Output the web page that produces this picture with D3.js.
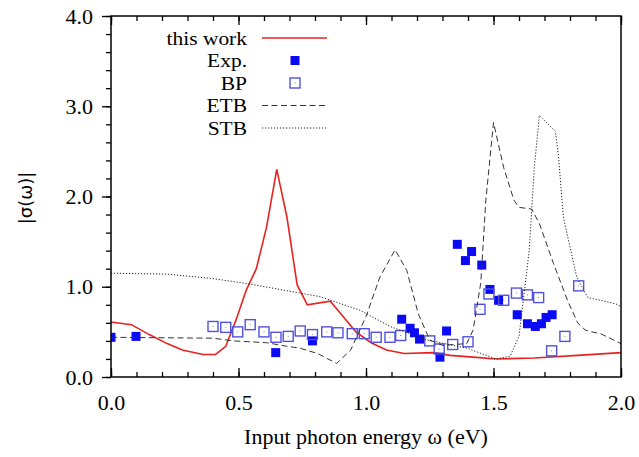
<!DOCTYPE html>
<html>
<head>
<meta charset="utf-8">
<script src="https://cdn.jsdelivr.net/npm/d3@7"></script>
<style>
  body { margin: 0; background: #fff; }
  text { font-family: "Liberation Serif", "Times New Roman", serif; }
</style>
</head>
<body>
<div id="fig"></div>
<script>
// this work (red solid)
var workX = [0, 0.08, 0.15, 0.22, 0.28, 0.36, 0.41, 0.45, 0.49, 0.53, 0.57, 0.61, 0.65, 0.69, 0.73, 0.77, 0.86, 0.91, 0.96, 1.02, 1.08, 1.15, 1.26, 1.33, 1.42, 1.51, 1.66, 1.83, 2.0];
var workY = [0.61, 0.58, 0.47, 0.37, 0.30, 0.25, 0.25, 0.34, 0.63, 0.96, 1.20, 1.66, 2.30, 1.77, 1.02, 0.80, 0.84, 0.67, 0.50, 0.38, 0.30, 0.26, 0.27, 0.24, 0.22, 0.20, 0.21, 0.24, 0.27];

// Exp. (filled squares)
var expX = [0.0, 0.098, 0.646, 0.79, 1.14, 1.173, 1.19, 1.21, 1.29, 1.316, 1.358, 1.414, 1.39, 1.454, 1.486, 1.52, 1.593, 1.633, 1.664, 1.688, 1.706, 1.73];
var expY = [0.44, 0.45, 0.27, 0.40, 0.64, 0.54, 0.49, 0.42, 0.22, 0.51, 1.47, 1.39, 1.29, 1.24, 0.97, 0.85, 0.69, 0.59, 0.56, 0.59, 0.66, 0.69];

// BP (open squares)
var bpX = [0.40, 0.45, 0.497, 0.546, 0.60, 0.647, 0.695, 0.742, 0.79, 0.846, 0.89, 0.946, 0.993, 1.04, 1.094, 1.136, 1.25, 1.287, 1.34, 1.40, 1.447, 1.482, 1.54, 1.59, 1.633, 1.677, 1.728, 1.78, 1.834];
var bpY = [0.56, 0.55, 0.50, 0.58, 0.50, 0.44, 0.45, 0.51, 0.47, 0.50, 0.49, 0.48, 0.48, 0.44, 0.44, 0.46, 0.40, 0.31, 0.36, 0.39, 0.75, 0.92, 0.85, 0.93, 0.91, 0.88, 0.29, 0.45, 1.01];

// ETB (dashed)
var etbX = [0, 0.4, 0.48, 0.61, 0.69, 0.74, 0.81, 0.885, 0.94, 1.0, 1.055, 1.114, 1.16, 1.205, 1.25, 1.30, 1.395, 1.42, 1.45, 1.47, 1.50, 1.54, 1.58, 1.60, 1.65, 1.68, 1.735, 1.79, 1.83, 1.86, 1.885, 1.92, 2.0];
var etbY = [0.44, 0.43, 0.40, 0.38, 0.34, 0.32, 0.26, 0.15, 0.30, 0.67, 1.11, 1.41, 1.18, 0.70, 0.41, 0.35, 0.37, 0.52, 1.04, 1.96, 2.82, 2.32, 1.96, 1.88, 1.86, 1.70, 1.26, 0.85, 0.60, 0.52, 0.50, 0.48, 0.37];

// STB (dotted)
var stbX = [0, 0.22, 0.4, 0.545, 0.74, 0.82, 0.976, 1.094, 1.24, 1.395, 1.51, 1.565, 1.60, 1.64, 1.66, 1.68, 1.743, 1.755, 1.774, 1.826, 1.87, 1.92, 1.98, 2.0];
var stbY = [1.15, 1.14, 1.09, 1.03, 0.93, 0.89, 0.74, 0.56, 0.41, 0.32, 0.20, 0.23, 0.45, 1.40, 2.32, 2.90, 2.72, 2.44, 1.77, 1.11, 0.88, 0.85, 0.81, 0.78];

var xTicks = [0, 0.5, 1.0, 1.5, 2.0];
var yTicks = [0, 1.0, 2.0, 3.0, 4.0];
var legendLabels = ["this work", "Exp.", "BP", "ETB", "STB"];

var W = 639, H = 457;
var margin = { top: 16, right: 18, bottom: 80, left: 111 };
var width = W - margin.left - margin.right;
var height = H - margin.top - margin.bottom;
var fs = 22;

var x = d3.scaleLinear().domain([0, 2]).range([0, width]);
var y = d3.scaleLinear().domain([0, 4]).range([height, 0]);

var svg = d3.select("#fig").append("svg")
    .attr("width", W)
    .attr("height", H);

var fig = svg.append("g")
    .attr("transform", "translate(" + margin.left + "," + margin.top + ")");

fig.append("clipPath").attr("id", "clip")
    .append("rect").attr("width", width).attr("height", height);

var zip = (xs, ys) => xs.map((v, i) => [v, ys[i]]);
var line = d3.line().x(d => x(d[0])).y(d => y(d[1]));

var plot = fig.append("g").attr("clip-path", "url(#clip)");

plot.append("path")
    .datum(zip(workX, workY))
    .attr("d", line)
    .attr("fill", "none")
    .attr("stroke", "#e8231f")
    .attr("stroke-width", 1.6);

plot.selectAll(".exp")
    .data(zip(expX, expY))
    .enter().append("rect")
    .attr("class", "exp")
    .attr("x", d => x(d[0]) - 4.5)
    .attr("y", d => y(d[1]) - 4.5)
    .attr("width", 9)
    .attr("height", 9)
    .attr("fill", "#0a0af5");

var bp = plot.selectAll(".bp")
    .data(zip(bpX, bpY))
    .enter().append("g")
    .attr("class", "bp")
    .attr("transform", d => "translate(" + x(d[0]) + "," + y(d[1]) + ")");
bp.append("rect")
    .attr("x", -5).attr("y", -5).attr("width", 10).attr("height", 10)
    .attr("fill", "none").attr("stroke", "#5252dc").attr("stroke-width", 1.4);
bp.append("rect")
    .attr("x", -0.5).attr("y", -0.5).attr("width", 1).attr("height", 1)
    .attr("fill", "#888");

plot.append("path")
    .datum(zip(etbX, etbY))
    .attr("d", line)
    .attr("fill", "none")
    .attr("stroke", "#333")
    .attr("stroke-width", 1)
    .attr("stroke-dasharray", "6,3.5");

plot.append("path")
    .datum(zip(stbX, stbY))
    .attr("d", line)
    .attr("fill", "none")
    .attr("stroke", "#222")
    .attr("stroke-width", 1)
    .attr("stroke-dasharray", "1.2,1.8");

// axes
var fmt = d3.format(".1f");
var minorX = d3.range(0, 2.0001, 0.1);
var minorY = d3.range(0, 4.0001, 0.2);

fig.append("g")
    .attr("transform", "translate(0," + height + ")")
    .call(d3.axisBottom(x).tickValues(minorX).tickSize(-5).tickFormat(""))
    .call(g => g.select(".domain").remove());
fig.append("g")
    .attr("transform", "translate(0," + height + ")")
    .call(d3.axisBottom(x).tickValues(xTicks).tickSize(-9).tickPadding(17).tickFormat(fmt))
    .call(g => g.select(".domain").remove())
    .call(g => g.selectAll("text").attr("font-size", fs).attr("font-family", "Liberation Serif"));

fig.append("g")
    .call(d3.axisTop(x).tickValues(minorX).tickSize(-5).tickFormat(""))
    .call(g => g.select(".domain").remove());
fig.append("g")
    .call(d3.axisTop(x).tickValues(xTicks).tickSize(-9).tickFormat(""))
    .call(g => g.select(".domain").remove());

fig.append("g")
    .call(d3.axisLeft(y).tickValues(minorY).tickSize(5).tickFormat(""))
    .call(g => g.select(".domain").remove());
fig.append("g")
    .call(d3.axisLeft(y).tickValues(yTicks).tickSize(9).tickPadding(9).tickFormat(fmt))
    .call(g => g.select(".domain").remove())
    .call(g => g.selectAll("text").attr("font-size", fs).attr("font-family", "Liberation Serif"));

fig.selectAll(".tick line").attr("stroke", "#000").attr("stroke-width", 1.3);

fig.append("rect")
    .attr("width", width)
    .attr("height", height)
    .attr("fill", "none")
    .attr("stroke", "#000")
    .attr("stroke-width", 1.5);

// axis titles
fig.append("text")
    .attr("text-anchor", "middle")
    .attr("x", width / 2)
    .attr("y", height + 67)
    .attr("font-size", fs)
    .text("Input photon energy \u03c9 (eV)");

svg.append("text")
    .attr("text-anchor", "middle")
    .attr("transform", "translate(32,198) rotate(-90)")
    .attr("font-size", 18)
    .style("font-family", "DejaVu Sans, sans-serif")
    .text("|\u03c3(\u03c9)|");

// legend (text a little wider than tall, as in the original)
var leg = svg.append("g");
var rowY = d => 38 + d * 22.5;
leg.selectAll("text")
    .data(legendLabels)
    .enter().append("text")
    .attr("transform", (d, i) => "translate(247," + (rowY(i) + 6.5) + ") scale(1.13,1)")
    .attr("text-anchor", "end")
    .attr("font-size", 19)
    .text(d => d);

leg.append("line").attr("x1", 262).attr("x2", 327).attr("y1", rowY(0)).attr("y2", rowY(0))
    .attr("stroke", "#e8231f").attr("stroke-width", 1.6);
leg.append("rect").attr("x", 290.5).attr("y", rowY(1) - 4.5).attr("width", 9).attr("height", 9)
    .attr("fill", "#0a0af5");
leg.append("rect").attr("x", 290).attr("y", rowY(2) - 5).attr("width", 10).attr("height", 10)
    .attr("fill", "none").attr("stroke", "#5252dc").attr("stroke-width", 1.4);
leg.append("rect").attr("x", 294.5).attr("y", rowY(2) - 0.5).attr("width", 1).attr("height", 1)
    .attr("fill", "#888");
leg.append("line").attr("x1", 262).attr("x2", 327).attr("y1", rowY(3)).attr("y2", rowY(3))
    .attr("stroke", "#333").attr("stroke-dasharray", "6,3.5");
leg.append("line").attr("x1", 262).attr("x2", 326).attr("y1", rowY(4)).attr("y2", rowY(4))
    .attr("stroke", "#222").attr("stroke-dasharray", "1.2,1.8");
</script>
</body>
</html>
